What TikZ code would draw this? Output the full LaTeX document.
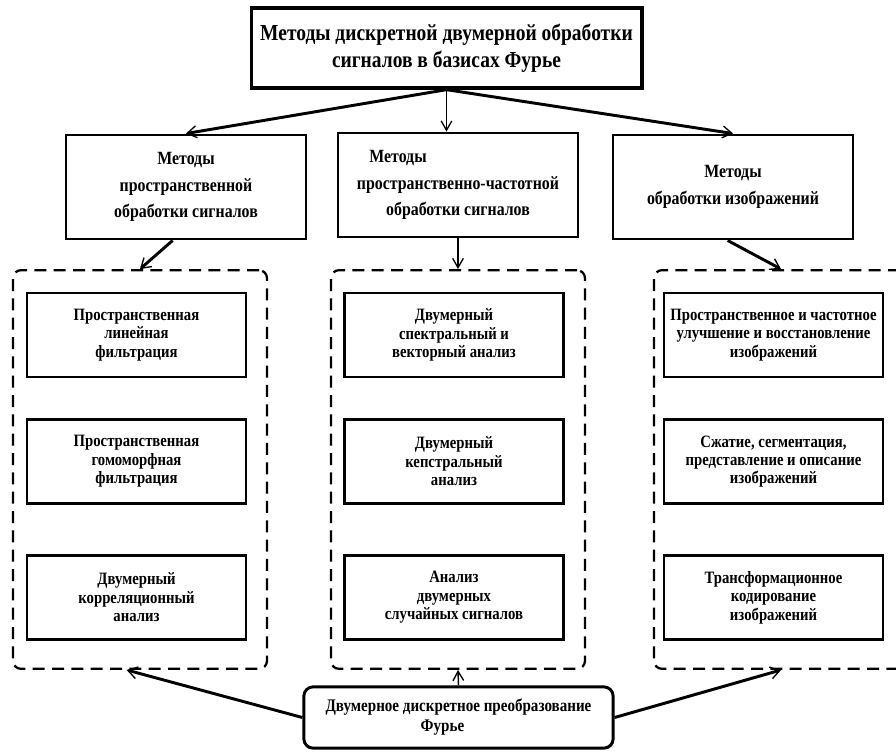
\documentclass[tikz,border=0pt]{standalone}
\usepackage{fontspec}
\setmainfont{Liberation Serif}[FakeStretch=0.85]
\usetikzlibrary{positioning}
\usetikzlibrary{arrows.meta}

\begin{document}
\begin{tikzpicture}[x=0.75pt,y=-0.75pt,
 head/.style={draw,line width=2.5pt,inner sep=0pt,align=center,minimum width=293pt,minimum height=60pt,font=\bfseries\fontsize{17.2}{20.5}\selectfont},
 method/.style={draw,line width=2.2pt,inner sep=0pt,align=center,minimum width=180pt,minimum height=78pt,font=\bfseries\fontsize{14}{20}\selectfont},
 item/.style={draw,line width=1.9pt,inner sep=0pt,align=center,minimum width=164pt,minimum height=63pt,font=\bfseries\fontsize{13}{13.8}\selectfont},
 group/.style={draw,line width=1.7pt,dash pattern=on 9pt off 5.5pt,rounded corners=6pt,minimum width=190.5pt,minimum height=299pt},
 base/.style={draw,line width=2.2pt,rounded corners=7pt,inner sep=0pt,align=center,minimum width=232pt,minimum height=46pt,font=\bfseries\fontsize{13.3}{15}\selectfont},
 link/.style={line width=2.2pt,-{Straight Barb[length=7pt,width=9pt,line width=1pt]}},
 thinlink/.style={line width=1.1pt,-{Straight Barb[length=7pt,width=8pt,line width=1pt]}}]
 \useasboundingbox (0,0) rectangle (896,751);
 \node[head] (top) at (446.5,48) {Методы дискретной двумерной обработки\\сигналов в базисах Фурье};
 \node[method] (mspace) at (186,187) {Методы\\пространственной\\обработки сигналов};
 \node[method] (mfreq) at (458,185) {Методы\hspace*{90pt}\\пространственно-частотной\\обработки сигналов};
 \node[method] (mimage) at (733,187) {Методы\\обработки изображений};
 \node[group] (grpA) at (140,469.5) {};
 \node[group] (grpB) at (458,469.5) {};
 \node[group] (grpC) at (781,469.5) {};
 \node[item] (a1) at (136.5,335) {Пространственная\\линейная\\фильтрация};
 \node[item] (a2) at (136.5,461.5) {Пространственная\\гомоморфная\\фильтрация};
 \node[item] (a3) at (136.5,597.5) {Двумерный\\корреляционный\\анализ};
 \node[item] (b1) at (454,335) {Двумерный\\спектральный и\\векторный анализ};
 \node[item] (b2) at (454,461.5) {Двумерный\\кепстральный\\анализ};
 \node[item] (b3) at (454,597.5) {Анализ\\двумерных\\случайных сигналов};
 \node[item] (c1) at (773.5,335) {Пространственное и частотное\\улучшение и восстановление\\изображений};
 \node[item] (c2) at (773.5,461.5) {Сжатие, сегментация,\\представление и описание\\изображений};
 \node[item] (c3) at (773.5,597.5) {Трансформационное\\кодирование\\изображений};
 \node[base] (dft) at (458.5,717.5) {Двумерное дискретное преобразование\\Фурье\hspace*{24pt}};
 \draw[link] (top.south) -- (mspace.north);
 \draw[thinlink] (top.south) -- (top.south |- mfreq.north);
 \draw[link] (top.south) -- (mimage.north);
 \draw[link] ([xshift=-10pt]mspace.south) -- (grpA.north);
 \draw[thinlink] (mfreq.south) -- (grpB.north);
 \draw[link] ([xshift=-4pt]mimage.south) -- (grpC.north);
 \draw[link] (dft.west) -- ([xshift=-10pt]grpA.south);
 \draw[thinlink] (dft.north) -- (grpB.south);
 \draw[link] (dft.east) -- (grpC.south);
\end{tikzpicture}
\end{document}
